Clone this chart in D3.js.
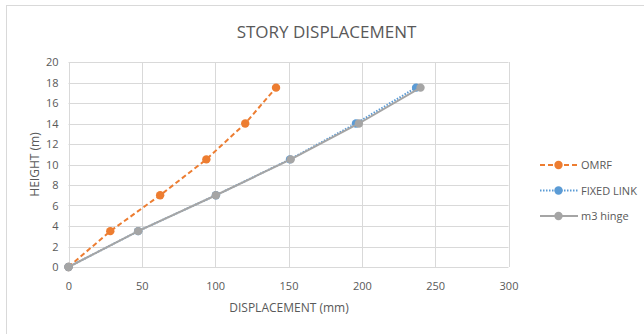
<!DOCTYPE html>
<html><head><meta charset="utf-8">
<script src="https://cdnjs.cloudflare.com/ajax/libs/d3/7.8.5/d3.min.js"></script>
<style>body{margin:0;background:#fff;}svg{display:block;font-family:"Open Sans","Noto Sans",sans-serif;}</style>
</head><body>
<svg id="chart" width="644" height="334"></svg>
<script>
const heights = [0, 3.5, 7, 10.5, 14, 17.5];
const omrf = [0, 28.5, 62.5, 94, 120.5, 141.5];
const fixedLink = [0, 47.5, 100.5, 151, 196, 237];
const m3Hinge = [0, 47.5, 100.5, 151.5, 198, 240];
const seriesNames = ["OMRF", "FIXED LINK", "m3 hinge"];
const xTicks = [0, 50, 100, 150, 200, 250, 300];
const yTicks = [0, 2, 4, 6, 8, 10, 12, 14, 16, 18, 20];

const series = [
  {name: seriesNames[0], xs: omrf, color: "#ED7D31", dash: "5,3"},
  {name: seriesNames[1], xs: fixedLink, color: "#5B9BD5", dash: "1.5,1.5"},
  {name: seriesNames[2], xs: m3Hinge, color: "#A5A5A5", dash: null}
];

const svg = d3.select("#chart");
svg.append("rect").attr("x", 6.5).attr("y", 5.5).attr("width", 700).attr("height", 400)
  .attr("fill", "#fff").attr("stroke", "#d9d9d9").attr("stroke-width", 1);

const x = d3.scaleLinear().domain([0, 300]).range([68.5, 508.5]);
const y = d3.scaleLinear().domain([0, 20]).range([267, 62]);

// grid
const g = svg.append("g");
g.selectAll(".vg").data(xTicks).join("line")
  .attr("x1", d => Math.round(x(d)) + 0.5).attr("x2", d => Math.round(x(d)) + 0.5)
  .attr("y1", y(0)).attr("y2", y(20)).attr("stroke", "#d9d9d9");
g.selectAll(".hg").data(yTicks).join("line")
  .attr("y1", d => Math.round(y(d)) + 0.5).attr("y2", d => Math.round(y(d)) + 0.5)
  .attr("x1", x(0)).attr("x2", x(300)).attr("stroke", "#d9d9d9");

// axes labels via d3 axes
const xAxis = svg.append("g").attr("transform", `translate(0,${y(0)})`)
  .call(d3.axisBottom(x).tickValues(xTicks).tickSize(0).tickPadding(15));
const yAxis = svg.append("g").attr("transform", `translate(${x(0)},0)`)
  .call(d3.axisLeft(y).tickValues(yTicks).tickSize(0).tickPadding(10));
[xAxis, yAxis].forEach(a => {
  a.select(".domain").remove();
  a.selectAll("text").attr("fill", "#595959").style("font-size", "11px")
    .style("font-family", '"Open Sans","Noto Sans",sans-serif');
});

// title
svg.append("text").attr("x", 326.5).attr("y", 38).attr("text-anchor", "middle")
  .attr("fill", "#595959").style("font-size", "17px").text("STORY DISPLACEMENT");
svg.append("text").attr("x", 289).attr("y", 312).attr("text-anchor", "middle")
  .attr("fill", "#595959").style("font-size", "12px").text("DISPLACEMENT (mm)");
svg.append("text").attr("transform", "translate(39,164.5) rotate(-90)").attr("text-anchor", "middle")
  .attr("fill", "#595959").style("font-size", "12px").text("HEIGHT (m)");

// series
const line = d3.line().x(d => x(d[0])).y(d => y(d[1]));
series.forEach(s => {
  const pts = s.xs.map((v, i) => [v, heights[i]]);
  svg.append("path").datum(pts).attr("d", line).attr("fill", "none")
    .attr("stroke", s.color).attr("stroke-width", 2)
    .attr("stroke-dasharray", s.dash);
  svg.selectAll(null).data(pts).join("circle")
    .attr("cx", d => x(d[0])).attr("cy", d => y(d[1])).attr("r", 4.2).attr("fill", s.color);
});

// legend
const leg = svg.append("g");
series.forEach((s, i) => {
  const ly = 165 + i * 25.5;
  leg.append("line").attr("x1", 540).attr("x2", 578).attr("y1", ly).attr("y2", ly)
    .attr("stroke", s.color).attr("stroke-width", 2).attr("stroke-dasharray", s.dash);
  leg.append("circle").attr("cx", 558.5).attr("cy", ly).attr("r", 4.2).attr("fill", s.color);
  leg.append("text").attr("x", 581).attr("y", ly + 4).attr("fill", "#595959")
    .style("font-size", "11px").text(s.name);
});
</script>
</body></html>
